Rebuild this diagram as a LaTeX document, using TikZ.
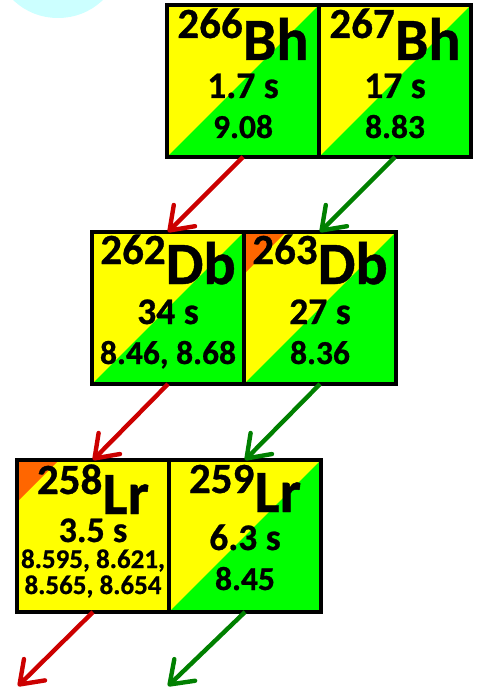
\documentclass[tikz,border=0pt]{standalone}
\usepackage{fontspec}
\setmainfont{Carlito}[BoldFeatures={FakeBold=0.7}]
\usetikzlibrary{arrows.meta}
\definecolor{nucyellow}{RGB}{255,255,0}
\definecolor{nucgreen}{RGB}{0,255,0}
\definecolor{nucorange}{RGB}{255,102,0}
\definecolor{arrred}{RGB}{204,0,0}
\definecolor{arrgreen}{RGB}{0,128,0}
\definecolor{blobcol}{RGB}{204,255,255}
\newcommand\nucl[3]{\raisebox{#3}{\fontsize{43}{43}\selectfont #1}\fontsize{60}{60}\selectfont #2}
\begin{document}
\begin{tikzpicture}[x=1pt,y=-1pt,
  nuc/.style={draw=black,line width=3.3pt,fill=nucyellow,minimum width=152pt,minimum height=152pt,inner sep=0pt,outer sep=0pt},
  diag/.style={path picture={\fill[nucgreen] (path picture bounding box.south west) -- (path picture bounding box.north east) -- (path picture bounding box.south east) -- cycle;}},
  diagcorner/.style={path picture={\fill[nucgreen] (path picture bounding box.south west) -- (path picture bounding box.north east) -- (path picture bounding box.south east) -- cycle;
      \fill[nucorange] (path picture bounding box.north west) -- ++(42pt,0pt) -- ++(-42pt,-42pt) -- cycle;}},
  corner/.style={path picture={\fill[nucorange] (path picture bounding box.north west) -- ++(42pt,0pt) -- ++(-42pt,-42pt) -- cycle;}},
  txt/.style={anchor=base,inner sep=0pt,text depth=0pt,font=\bfseries},
  lab/.style={txt,text height=36pt},
  hl/.style={txt,text height=22pt,font=\bfseries\fontsize{37.5}{37.5}\selectfont},
  hlsm/.style={txt,text height=21pt,font=\bfseries\fontsize{36}{36}\selectfont},
  en/.style={txt,text height=20pt,font=\bfseries\fontsize{33.5}{33.5}\selectfont},
  ensm/.style={txt,text height=17pt,font=\bfseries\fontsize{27}{27}\selectfont},
  arr/.style={line width=4.4pt,-{Straight Barb[length=21pt,width=30pt,round]}},
]
\useasboundingbox (0,0) rectangle (481,692);
\fill[blobcol] (58,-40) ellipse [x radius=62pt, y radius=58pt];

% boxes
\node[nuc,diag] (bh266) at (243,81) {};
\node[nuc,diag] (bh267) at (395,81) {};
\node[nuc,diag] (db262) at (168,308) {};
\node[nuc,diagcorner] (db263) at (320,308) {};
\node[nuc,corner] (lr258) at (93,536) {};
\node[nuc,diag] (lr259) at (245,536) {};

% Bh
\node[lab] (t1) at ([yshift=-55pt]bh266.north) {\nucl{266}{Bh}{22pt}};
\node[hl]  (t2) at ([yshift=-93pt]bh266.north) {1.7 s};
\node[en]  (t3) at ([yshift=-133pt]bh266.north) {9.08};
\node[lab] (t4) at ([yshift=-55pt]bh267.north) {\nucl{267}{Bh}{22pt}};
\node[hl]  (t5) at ([yshift=-93pt]bh267.north) {17 s};
\node[en]  (t6) at ([yshift=-133pt]bh267.north) {8.83};
% Db
\node[lab] (t7) at ([yshift=-52pt]db262.north) {\nucl{262}{Db}{20pt}};
\node[hl]  (t8) at ([yshift=-92pt]db262.north) {34 s};
\node[en]  (t9) at ([yshift=-132pt]db262.north) {8.46, 8.68};
\node[lab] (t10) at ([yshift=-52pt]db263.north) {\nucl{263}{Db}{20pt}};
\node[hl]  (t11) at ([yshift=-92pt]db263.north) {27 s};
\node[en]  (t12) at ([yshift=-132pt]db263.north) {8.36};
% Lr
\node[lab] (t13) at ([yshift=-54pt]lr258.north) {\nucl{258}{Lr}{20pt}};
\node[hlsm] (t14) at ([yshift=-82pt]lr258.north) {3.5 s};
\node[ensm] (t15) at ([yshift=-108pt]lr258.north) {8.595, 8.621,};
\node[ensm] (t16) at ([yshift=-134pt]lr258.north) {8.565, 8.654};
\node[lab] (t17) at ([yshift=-52pt]lr259.north) {\nucl{259}{Lr}{19pt}};
\node[hl]  (t18) at ([yshift=-90pt]lr259.north) {6.3 s};
\node[en]  (t19) at ([yshift=-130pt]lr259.north) {8.45};

% arrows
\coordinate (e1) at (18,686);
\coordinate (e2) at (168,686);
\draw[arr,arrred] (bh266.south) -- (db262.north);
\draw[arr,arrgreen] (bh267.south) -- (db263.north);
\draw[arr,arrred] (db262.south) -- (lr258.north);
\draw[arr,arrgreen] (db263.south) -- (lr259.north);
\draw[arr,arrred] (lr258.south) -- (e1);
\draw[arr,arrgreen] (lr259.south) -- (e2);
\end{tikzpicture}
\end{document}
